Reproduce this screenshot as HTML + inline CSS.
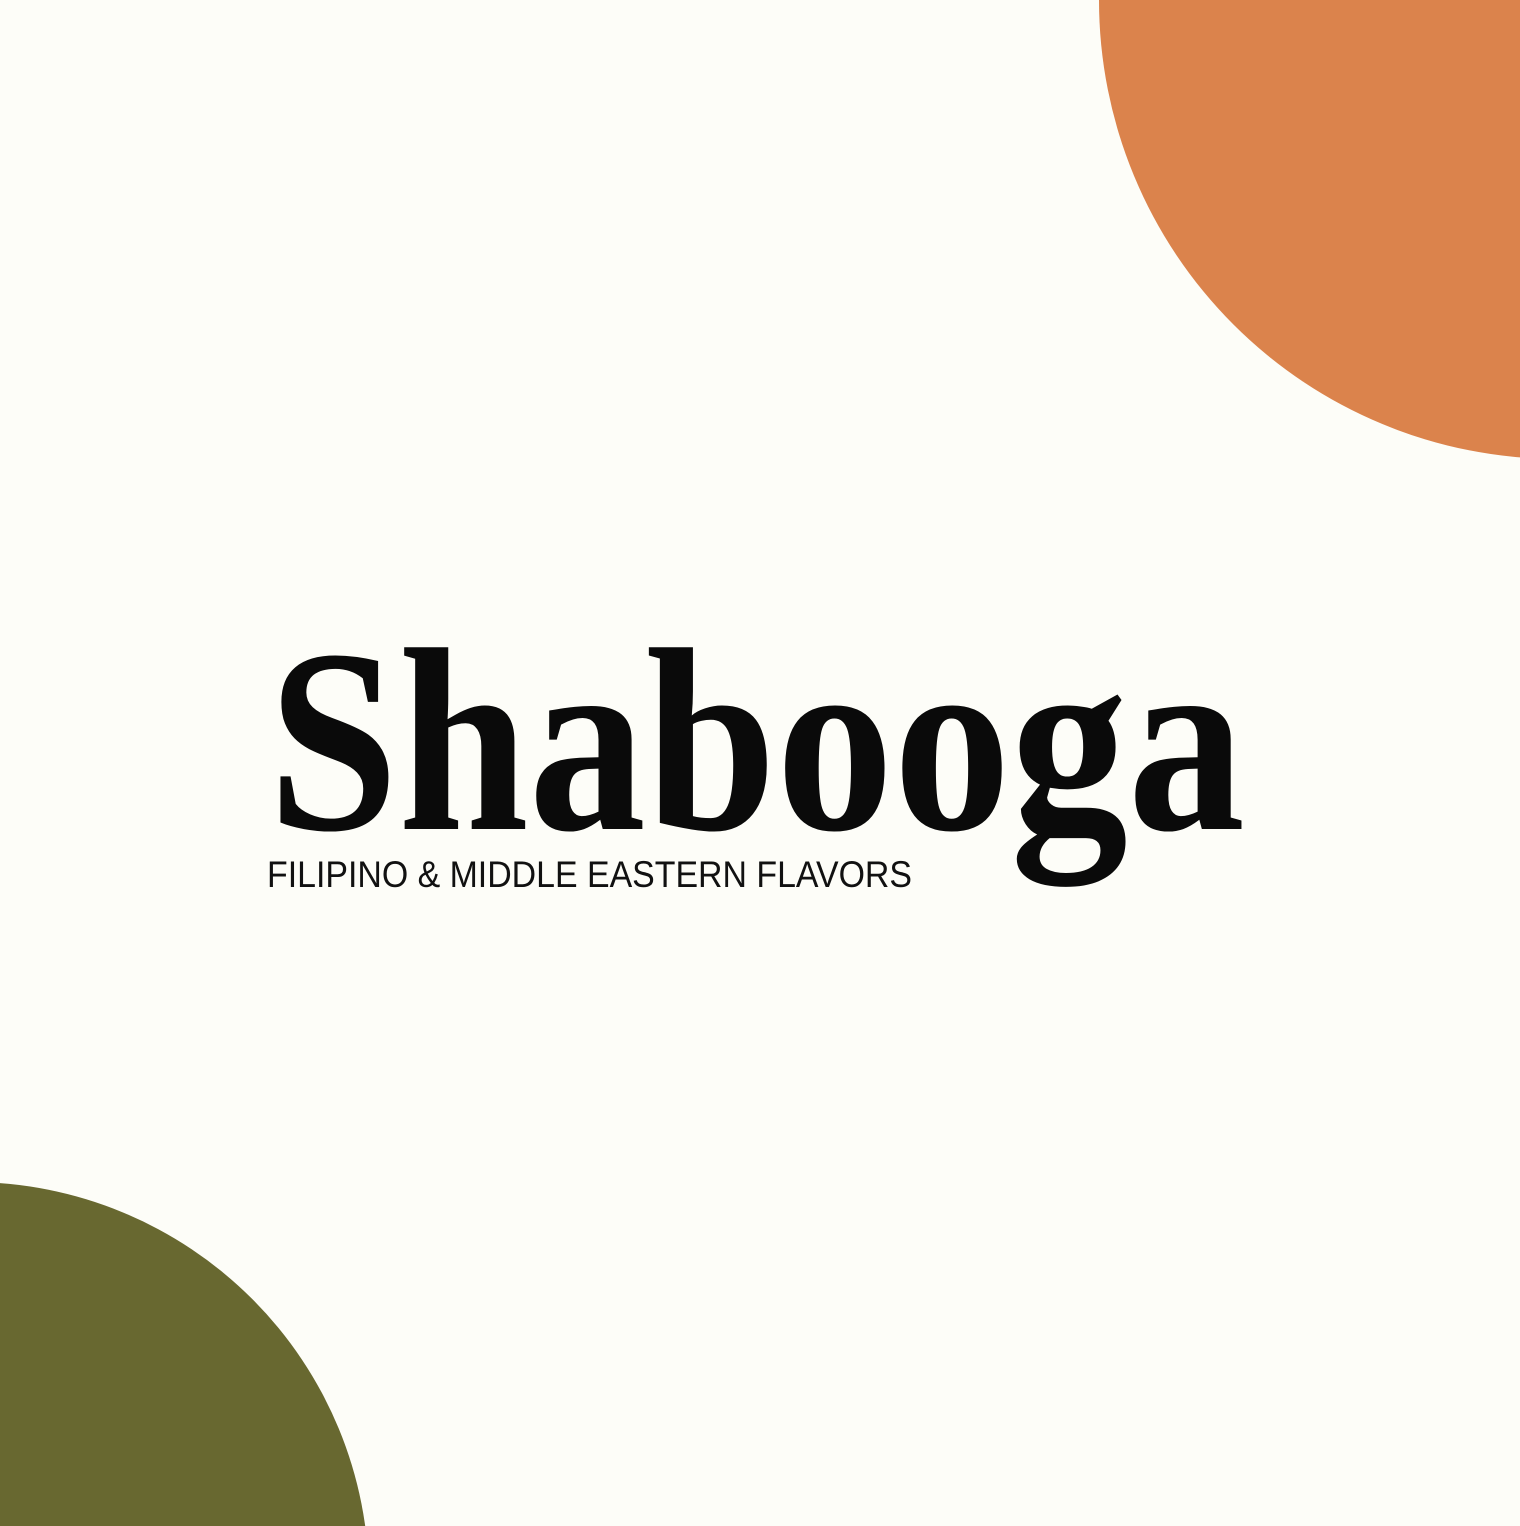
<!DOCTYPE html>
<html><head><meta charset="utf-8"><style>
html,body{margin:0;padding:0;background:#FDFDF8;width:1520px;height:1526px;overflow:hidden;}
svg{display:block;}
</style></head><body>
<svg width="1520" height="1526" viewBox="0 0 1520 1526" xmlns="http://www.w3.org/2000/svg">
<rect x="0" y="0" width="1520" height="1526" fill="#FDFDF8"/>
<circle cx="1558" cy="0" r="459" fill="#DB834C"/>
<circle cx="-30" cy="1581" r="399" fill="#686830"/>
<text x="268" y="829" font-family="'Liberation Serif', serif" font-weight="bold" font-size="262" fill="#0a0a0a" textLength="977" lengthAdjust="spacingAndGlyphs">Shabooga</text>
<text x="267" y="887" font-family="'Liberation Sans', sans-serif" font-size="37" fill="#111" textLength="645" lengthAdjust="spacingAndGlyphs">FILIPINO &amp; MIDDLE EASTERN FLAVORS</text>
</svg>
</body></html>
